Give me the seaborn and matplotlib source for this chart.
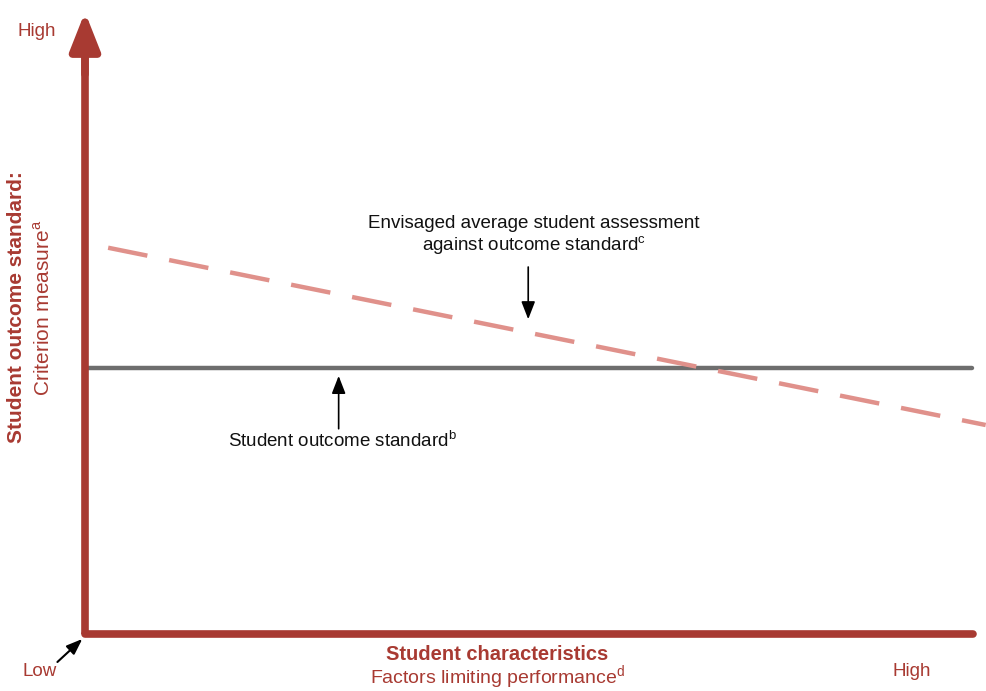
import matplotlib
matplotlib.use("Agg")
import matplotlib.pyplot as plt
import seaborn as sns
import pandas as pd

# Conceptual data (axis units: 0 = low, 1 = high)
standard_x = [0.0, 0.997]
standard_y = [0.428, 0.428]
envisaged_x = [0.026, 1.012]
envisaged_y = [0.621, 0.336]

axis_label_x = "Student characteristics"
axis_sub_x = "Factors limiting performance"
axis_label_y = "Student outcome standard:"
axis_sub_y = "Criterion measure"
label_standard = "Student outcome standard"
label_envisaged_1 = "Envisaged average student assessment"
label_envisaged_2 = "against outcome standard"

sns.set_theme(style="white")
plt.rcParams["font.family"] = ["Liberation Sans", "DejaVu Sans"]
plt.rcParams["mathtext.fontset"] = "custom"
plt.rcParams["mathtext.rm"] = "Liberation Sans"

RED = "#A83A32"
PINK = "#E0918B"
GRAY = "#6E6E6E"

W, H = 986, 691
fig = plt.figure(figsize=(W / 100, H / 100), dpi=100)
x0, y0, x1, y1 = 85, 634, 975, 12
ax = fig.add_axes([x0 / W, (H - y0) / H, (x1 - x0) / W, (y0 - y1) / H])
ax.set_xlim(0, 1)
ax.set_ylim(0, 1)
ax.axis("off")

std = pd.DataFrame({"x": standard_x, "y": standard_y})
env = pd.DataFrame({"x": envisaged_x, "y": envisaged_y})
sns.lineplot(data=std, x="x", y="y", ax=ax, color=GRAY, lw=3.2, legend=False)
sns.lineplot(data=env, x="x", y="y", ax=ax, color=PINK, lw=3.2, legend=False)
ax.lines[-1].set_dashes([9, 5])
ax.lines[-1].set_clip_on(False)
ax.lines[0].set_clip_on(False)

# axes
ax.plot([0, 0], [0, 0.93], color=RED, lw=5.5, solid_capstyle="butt", clip_on=False)
ax.plot([0, 0.998], [0, 0], color=RED, lw=5.5, solid_capstyle="round", clip_on=False)
ax.annotate("", xy=(0, 1.0), xytext=(0, 0.9), xycoords="data",
            arrowprops=dict(arrowstyle="-|>,head_length=1.9,head_width=0.75",
                            color=RED, lw=5.5, shrinkA=0, shrinkB=0),
            annotation_clip=False)

# annotations with arrows
ax.annotate("", xy=(0.498, 0.506), xytext=(0.498, 0.590),
            arrowprops=dict(arrowstyle="-|>,head_length=0.9,head_width=0.35",
                            color="black", lw=1.2, shrinkA=0, shrinkB=0))
ax.annotate("", xy=(0.285, 0.415), xytext=(0.285, 0.33),
            arrowprops=dict(arrowstyle="-|>,head_length=0.9,head_width=0.35",
                            color="black", lw=1.2, shrinkA=0, shrinkB=0))
ax.annotate("", xy=(-0.003, -0.008), xytext=(-0.031, -0.045),
            arrowprops=dict(arrowstyle="-|>,head_length=0.8,head_width=0.3",
                            color="black", lw=1.5, shrinkA=0, shrinkB=0),
            annotation_clip=False)

fs = 13.5
fig.text(534 / W, 1 - 224 / H, label_envisaged_1,
         ha="center", va="center", fontsize=fs, color="#111111")
fig.text(534 / W, 1 - 246 / H, label_envisaged_2 + "$^{\\mathrm{c}}$",
         ha="center", va="center", fontsize=fs, color="#111111")
fig.text(342 / W, 1 - 441 / H, label_standard + "$^{\\mathrm{b}}$",
         ha="center", va="center", fontsize=fs, color="#111111")

fig.text(37 / W, 1 - 32 / H, "High", ha="center", va="center", fontsize=fs, color=RED)
fig.text(40 / W, 1 - 672 / H, "Low", ha="center", va="center", fontsize=fs, color=RED)
fig.text(912 / W, 1 - 672 / H, "High", ha="center", va="center", fontsize=fs, color=RED)

fig.text(497 / W, 1 - 655 / H, axis_label_x, ha="center", va="center",
         fontsize=14.5, fontweight="bold", color=RED)
fig.text(497 / W, 1 - 678 / H, axis_sub_x + "$^{\\mathrm{d}}$", ha="center", va="center",
         fontsize=14, color=RED)
fig.text(17 / W, 1 - 307 / H, axis_label_y, ha="center", va="center", rotation=90,
         fontsize=15, fontweight="bold", color=RED)
fig.text(43 / W, 1 - 308 / H, axis_sub_y + "$^{\\mathrm{a}}$", ha="center", va="center",
         rotation=90, fontsize=15, color=RED)

fig.savefig("out.png", dpi=100)
